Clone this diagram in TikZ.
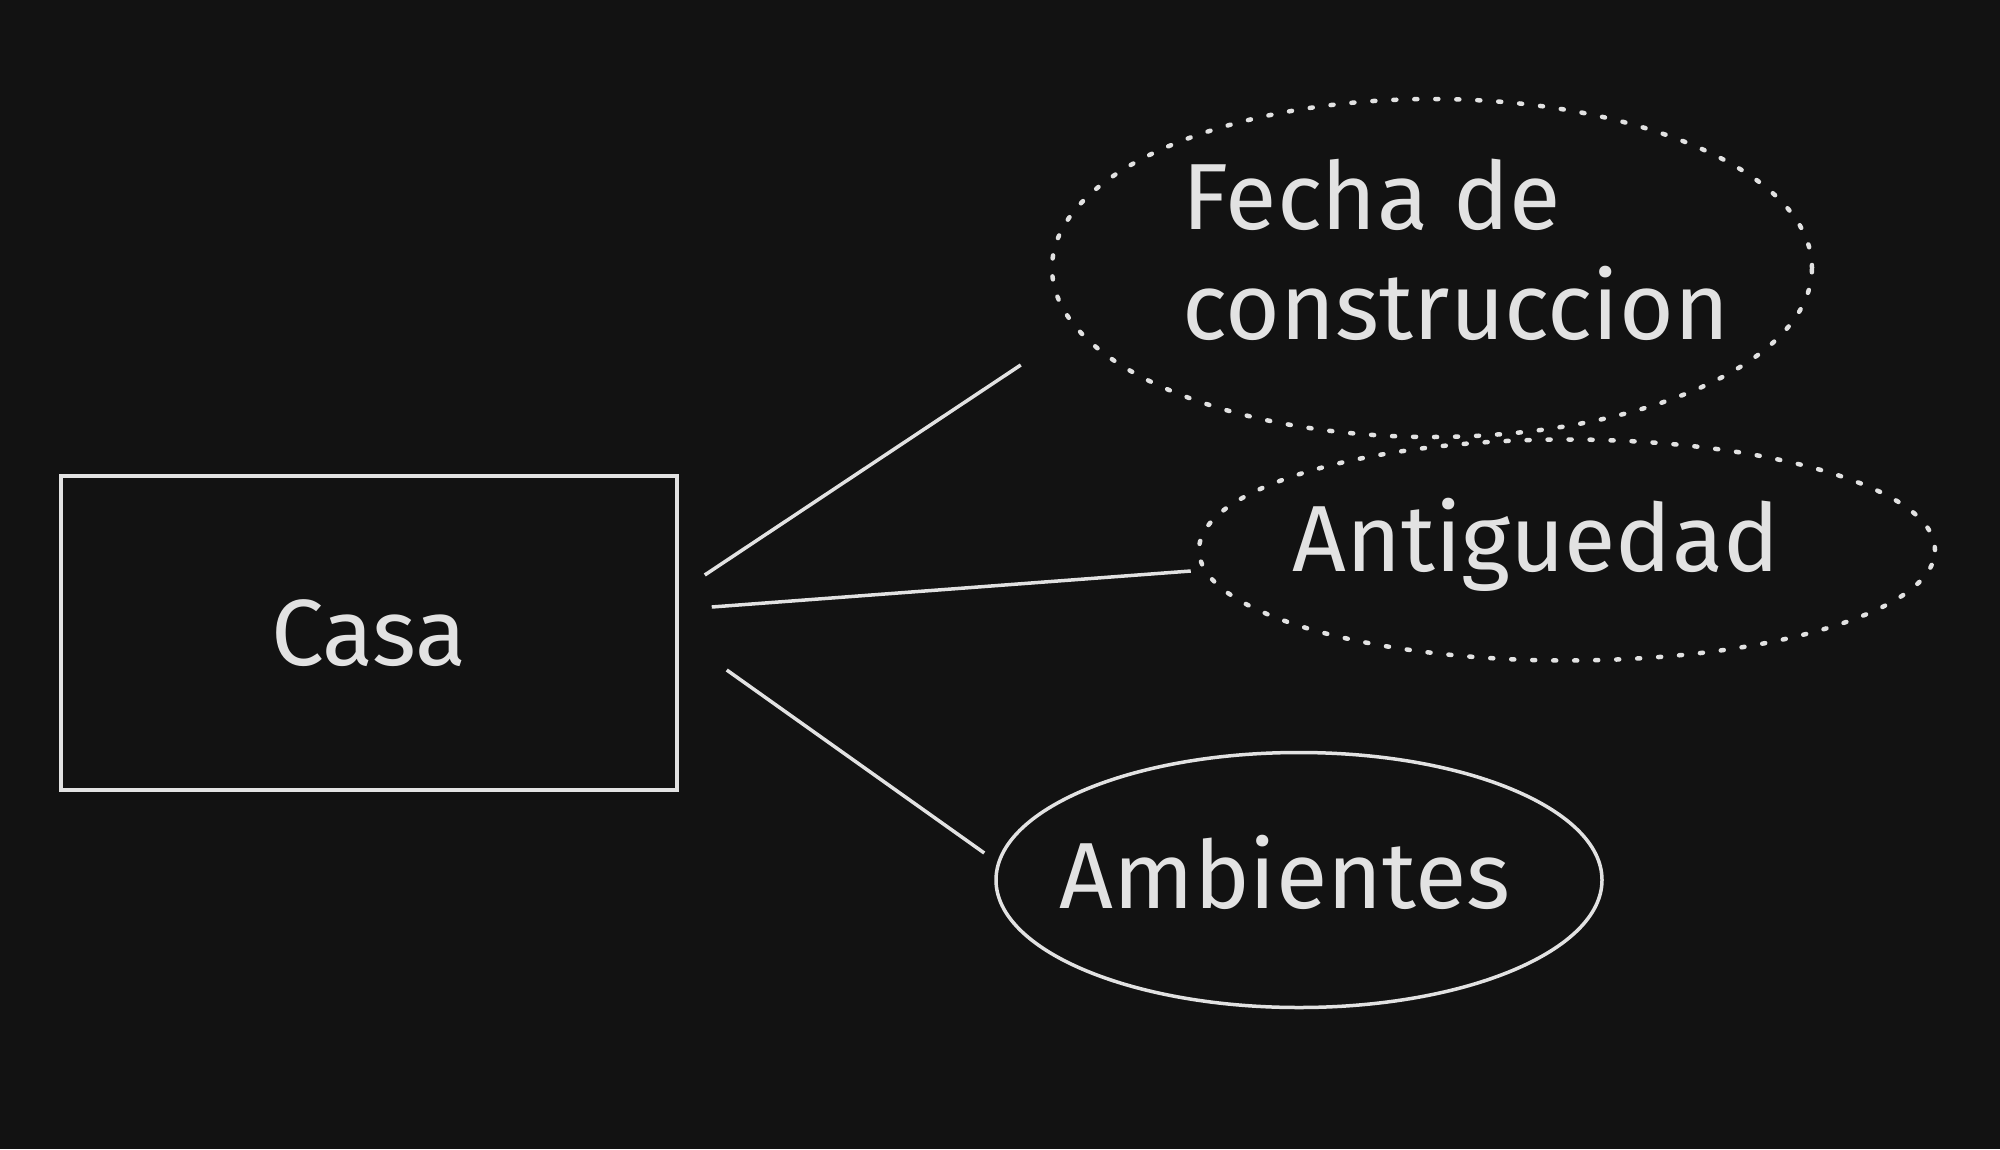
\documentclass[tikz,border=0pt]{standalone}
\usepackage{fontspec}
\setmainfont{Fira Sans}
\usetikzlibrary{shapes.geometric}
\definecolor{bgc}{HTML}{121212}
\definecolor{ink}{HTML}{E2E2E2}
\begin{document}
\begin{tikzpicture}[x=1pt,y=-1pt,
  every node/.style={text=ink,font=\fontsize{94}{110}\selectfont,inner sep=0pt},
  entbox/.style={draw=ink,line width=3.5pt,rectangle,minimum width=616pt,minimum height=314pt},
  attrdot/.style={draw=ink,line width=4.5pt,ellipse,dash pattern=on 3pt off 18pt,line cap=round},
  attrsolid/.style={draw=ink,line width=3.5pt,ellipse},
  link/.style={draw=ink,line width=3.5pt}]
\fill[bgc] (0,0) rectangle (2000,1149);
\useasboundingbox (0,0) rectangle (2000,1149);
\node[entbox] (casa) at (369,633) {Casa};
\node[attrdot,minimum width=760pt,minimum height=338pt] (fecha) at (1432,268) {};
\node[align=left] (fechaT) at (1456,250) {Fecha de\\construccion};
\node[attrdot,minimum width=736pt,minimum height=221pt] (antig) at (1567,550) {};
\node (antigT) at (1536,545) {Antiguedad};
\node[attrsolid,minimum width=606pt,minimum height=255pt] (amb) at (1299,880) {};
\node (ambT) at (1285,872) {Ambientes};
\draw[link] ([shift={(26,-58)}]casa.east) -- ([shift={(-29,97)}]fecha.west);
\draw[link] ([shift={(33,-26)}]casa.east) -- ([shift={(-6,21)}]antig.west);
\draw[link] ([shift={(48,37)}]casa.east) -- ([shift={(-10,-27)}]amb.west);
\end{tikzpicture}
\end{document}
